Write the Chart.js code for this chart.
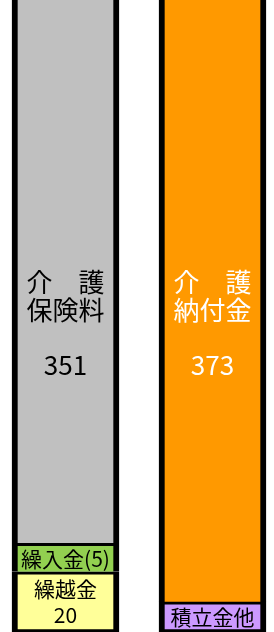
<!DOCTYPE html>
<html>
<head>
<meta charset="utf-8">
<script src="https://cdn.jsdelivr.net/npm/chart.js@4/dist/chart.umd.min.js"></script>
<style>
  html, body { margin: 0; padding: 0; background: #fff; }
  #wrap { width: 274px; height: 632px; position: relative; }
</style>
</head>
<body>
<div id="wrap"><canvas id="myChart"></canvas></div>
<script>
// two columns: income side / expense side
const columns = ['収入', '支出'];

// segment sizes as drawn in the picture (chart units, top of the chart is cut off)
const bottomSeg = [20, 10];     // 繰越金 / 積立金他
const middleSeg = [9.5, 205];   // 繰入金 / 介護納付金
const topSeg = [190, null];     // 介護保険料

// texts shown inside each segment
const bottomText = [['繰越金', '20'], ['積立金他']];
const middleText = [['繰入金(5)'], ['介　護', '納付金', '', '373']];
const topText = [['介　護', '保険料', '', '351'], null];

const bottomColors = ['#FFFF99', '#CC99FF'];
const middleColors = ['#92D050', '#FF9900'];
const topColors = ['#C0C0C0', '#C0C0C0'];

const bottomTextColor = ['#000', '#000'];
const middleTextColor = ['#000', '#fff'];
const topTextColor = ['#000', '#000'];

// where the tall segments put their caption (value on the y axis)
const captionAt = 102.5;

const texts = [bottomText, middleText, topText];
const textColors = [bottomTextColor, middleTextColor, topTextColor];

const segmentText = {
  id: 'segmentText',
  afterDatasetsDraw(chart) {
    const ctx = chart.ctx;
    const area = chart.chartArea;
    const yScale = chart.scales.y;
    ctx.save();
    ctx.textAlign = 'center';
    ctx.textBaseline = 'middle';
    chart.data.datasets.forEach(function (ds, di) {
      const meta = chart.getDatasetMeta(di);
      meta.data.forEach(function (bar, i) {
        const lines = texts[di][i];
        if (!lines) return;
        const props = bar.getProps(['x', 'y', 'base'], true);
        let cy, size, lh;
        if (props.y < area.top) {
          cy = yScale.getPixelForValue(captionAt);
          size = 26;
          lh = 27.5;
        } else {
          const bw = ds.borderWidth;
          const top = props.y + bw.top;
          const bottom = props.base - bw.bottom;
          cy = (top + bottom) / 2 + 0.5;
          size = 21;
          lh = 26;
        }
        ctx.fillStyle = textColors[di][i];
        ctx.font = size + 'px "Noto Sans CJK JP"';
        lines.forEach(function (t, k) {
          const yy = cy + (k - (lines.length - 1) / 2) * lh;
          ctx.fillText(t, props.x, yy);
        });
      });
    });
    ctx.restore();
  }
};

const data = {
  labels: columns,
  datasets: [
    {
      data: bottomSeg,
      backgroundColor: bottomColors,
      borderColor: '#000',
      borderWidth: { left: 6, right: 6, top: 3, bottom: 3 },
      borderSkipped: false,
      clip: false
    },
    {
      data: middleSeg,
      backgroundColor: middleColors,
      borderColor: '#000',
      borderWidth: { left: 6, right: 6, top: 3, bottom: 0 },
      borderSkipped: false,
      clip: false
    },
    {
      data: topSeg,
      backgroundColor: topColors,
      borderColor: '#000',
      borderWidth: { left: 6, right: 6, top: 3, bottom: 0 },
      borderSkipped: false,
      clip: false
    }
  ]
};

const config = {
  type: 'bar',
  data: data,
  options: {
    responsive: true,
    maintainAspectRatio: false,
    animation: false,
    barThickness: 107,
    layout: { padding: { left: 65.5, right: 61.5, top: 0, bottom: 0 } },
    plugins: {
      legend: { display: false },
      tooltip: { enabled: false }
    },
    scales: {
      x: { stacked: true, offset: false, display: false, grid: { display: false } },
      y: { stacked: true, min: 0, max: 210, display: false, grid: { display: false } }
    }
  },
  plugins: [segmentText]
};

const myChart = new Chart(document.getElementById('myChart'), config);
</script>
</body>
</html>
